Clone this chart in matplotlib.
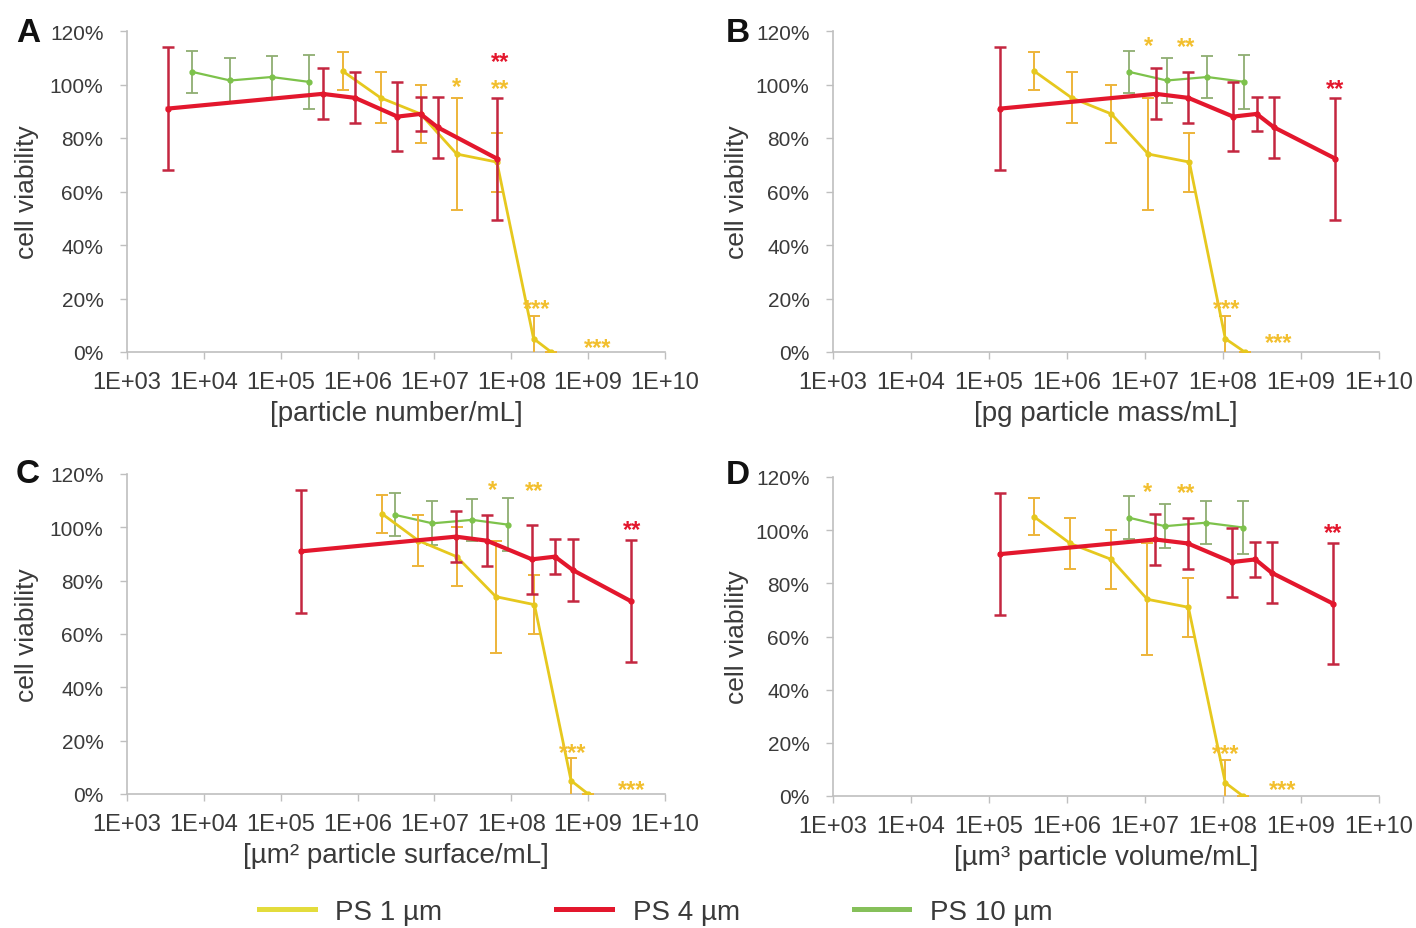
import matplotlib
matplotlib.use('Agg')
import matplotlib.pyplot as plt
from matplotlib.ticker import FixedLocator, FuncFormatter, LogLocator, NullFormatter
from matplotlib.lines import Line2D
import numpy as np

plt.rcParams['font.family'] = ['Liberation Sans', 'DejaVu Sans']

# ---------------- data ----------------
series_labels = ['PS 1 µm', 'PS 4 µm', 'PS 10 µm']

# cell viability (%) and error (SD) -- same for every panel
viab_ps1 = [105, 95, 89, 74, 71, 5, 0]
err_ps1 = [7, 9.5, 11, 21, 11, 8.6, 0]
viab_ps4 = [91, 96.5, 95, 88, 89, 84, 72.3]
err_ps4 = [23, 9.5, 9.5, 13, 6.5, 11.5, 22.8]
viab_ps10 = [104.7, 101.5, 102.8, 101]
err_ps10 = [8, 8.3, 8, 10]

# A: particle number / mL
xA_ps1 = [6.4e5, 2.0e6, 6.6e6, 1.95e7, 6.5e7, 1.95e8, 3.3e8]
xA_ps4 = [3.4e3, 3.5e5, 9.3e5, 3.3e6, 6.6e6, 1.1e7, 6.5e7]
xA_ps10 = [7.1e3, 2.2e4, 7.6e4, 2.3e5]
# B: pg particle mass / mL
xB_ps1 = [3.8e5, 1.15e6, 3.7e6, 1.1e7, 3.7e7, 1.07e8, 1.9e8]
xB_ps4 = [1.4e5, 1.38e7, 3.6e7, 1.35e8, 2.7e8, 4.5e8, 2.75e9]
xB_ps10 = [6.3e6, 1.9e7, 6.3e7, 1.86e8]
# C: µm² particle surface / mL
xC_ps1 = [2.1e6, 6.2e6, 1.95e7, 6.3e7, 2.0e8, 6.0e8, 1.0e9]
xC_ps4 = [1.86e5, 1.9e7, 4.8e7, 1.86e8, 3.7e8, 6.3e8, 3.6e9]
xC_ps10 = [3.05e6, 9.4e6, 3.1e7, 9.1e7]
# D: µm³ particle volume / mL
xD_ps1 = [3.8e5, 1.1e6, 3.7e6, 1.07e7, 3.6e7, 1.07e8, 1.8e8]
xD_ps4 = [1.4e5, 1.35e7, 3.55e7, 1.3e8, 2.6e8, 4.2e8, 2.6e9]
xD_ps10 = [6.2e6, 1.8e7, 6.0e7, 1.8e8]

panel_letters = ['A', 'B', 'C', 'D']
x_labels = ['[particle number/mL]', '[pg particle mass/mL]',
            '[µm² particle surface/mL]', '[µm³ particle volume/mL]']
y_label = 'cell viability'
x_tick_exponents = [3, 4, 5, 6, 7, 8, 9, 10]
y_ticks = [0, 20, 40, 60, 80, 100, 120]

# significance marks: (text, series, point index, y-centre %, shift in decades)
sig_A = [('*', 'ps1', 3, 102, 0.0), ('**', 'ps1', 4, 101.5, 0.04), ('**', 'ps4', 6, 111.5, 0.04),
         ('***', 'ps1', 5, 19, 0.04), ('***', 'ps1', 6, 4.6, 0.6)]
sig_B = [('*', 'ps1', 3, 117.6, 0.0), ('**', 'ps1', 4, 117, -0.04), ('***', 'ps1', 5, 19.2, 0.02),
         ('***', 'ps1', 6, 6.4, 0.43), ('**', 'ps4', 6, 101.4, 0.0)]
sig_C = [('*', 'ps1', 3, 116.9, -0.04), ('**', 'ps1', 4, 116.6, 0.0), ('***', 'ps1', 5, 18.4, 0.02),
         ('***', 'ps1', 6, 4.6, 0.56), ('**', 'ps4', 6, 102, 0.02)]
sig_D = [('*', 'ps1', 3, 117.4, 0.0), ('**', 'ps1', 4, 117, -0.03), ('***', 'ps1', 5, 18.7, 0.0),
         ('***', 'ps1', 6, 5.4, 0.51), ('**', 'ps4', 6, 102, 0.0)]

# ---------------- style ----------------
col_line = {'ps1': '#E6C81E', 'ps4': '#E3172D', 'ps10': '#7DC24B'}
col_err = {'ps1': '#EDB43A', 'ps4': '#C42640', 'ps10': '#8FAE72'}
col_sig = {'ps1': '#F2BF2E', 'ps4': '#E3172D'}
lw = {'ps1': 2.0, 'ps4': 3.0, 'ps10': 1.6}
elw = {'ps1': 1.4, 'ps4': 1.8, 'ps10': 1.3}
zo = {'ps1': 3, 'ps4': 4, 'ps10': 2}
leg_col = ['#E3DC3C', '#E3172D', '#86C05A']

W, H = 1416, 929
fig = plt.figure(figsize=(W / 100, H / 100), dpi=100)

# axes boxes in pixels: left, right, y(0%), y(120%)
boxes = [(127, 665, 353, 32), (833, 1379, 353, 32), (127, 665, 795, 475), (833, 1379, 797, 478)]
letter_pos = [(28, 33), (738, 33), (28, 475), (738, 476)]

panels = [
    (xA_ps1, xA_ps4, xA_ps10, sig_A),
    (xB_ps1, xB_ps4, xB_ps10, sig_B),
    (xC_ps1, xC_ps4, xC_ps10, sig_C),
    (xD_ps1, xD_ps4, xD_ps10, sig_D),
]

gray = '#BFBFBF'
txt = '#3A3A3A'

for i, ((l, r, y0, y1), (x1, x4, x10, sigs)) in enumerate(zip(boxes, panels)):
    ax = fig.add_axes([l / W, 1 - y0 / H, (r - l) / W, (y0 - y1) / H])
    data = {'ps1': (x1, viab_ps1, err_ps1), 'ps4': (x4, viab_ps4, err_ps4),
            'ps10': (x10, viab_ps10, err_ps10)}
    for key in ['ps10', 'ps1', 'ps4']:
        xs, ys, es = data[key]
        ax.errorbar(xs, ys, yerr=es, color=col_line[key], ecolor=col_err[key],
                    elinewidth=elw[key], capsize=4.5, capthick=elw[key], lw=lw[key],
                    marker='o', ms=3.5, zorder=zo[key])
    for text, key, idx, yc, dx in sigs:
        xs = data[key][0]
        fs = 17
        ax.annotate(text, xy=(xs[idx] * 10 ** dx, yc), xytext=(0, -0.6 * fs),
                    textcoords='offset points', ha='center', va='baseline',
                    fontsize=fs, fontweight='bold', color=col_sig[key],
                    annotation_clip=False, zorder=6)

    ax.set_xscale('log')
    ax.set_xlim(1e3, 1e10)
    ax.set_ylim(0, 120)
    ax.set_yticks(y_ticks)
    ax.yaxis.set_major_formatter(FuncFormatter(lambda v, p: f"{int(round(v))}%"))
    ax.xaxis.set_major_locator(FixedLocator([10.0 ** k for k in x_tick_exponents]))
    ax.xaxis.set_major_formatter(FuncFormatter(lambda v, p: f"1E+{int(round(np.log10(v))):02d}"))
    ax.xaxis.set_minor_locator(LogLocator(base=10, subs=np.arange(2, 10)))
    ax.xaxis.set_minor_formatter(NullFormatter())
    for s in ['top', 'right']:
        ax.spines[s].set_visible(False)
    for s in ['left', 'bottom']:
        ax.spines[s].set_color(gray)
        ax.spines[s].set_linewidth(1.2)
    ax.tick_params(axis='y', colors=gray, labelcolor=txt, length=5, width=1, pad=12, labelsize=15)
    ax.tick_params(axis='x', which='major', colors=gray, labelcolor=txt, length=5, width=1,
                   pad=9, labelsize=17)
    ax.tick_params(axis='x', which='minor', colors=gray, length=3, width=0.8)
    ax.set_facecolor('none')

    ax.set_xlabel(x_labels[i], fontsize=20, color=txt)
    ax.xaxis.set_label_coords(0.5, -0.19)
    ax.xaxis.label.set_va('center')
    ax.set_ylabel(y_label, fontsize=19, color=txt)
    ax.yaxis.set_label_coords(-0.186 if i % 2 == 0 else -0.176, 0.5)
    ax.yaxis.label.set_va('center')

    lx, ly = letter_pos[i]
    fig.text(lx / W, 1 - ly / H, panel_letters[i], fontsize=24, fontweight='bold',
             color='#111111', ha='center', va='center')

handles = [Line2D([], [], color=c, lw=3.6) for c in leg_col]
fig.legend(handles, series_labels, loc='center', bbox_to_anchor=(656 / W, 1 - 913 / H),
           ncol=3, frameon=False, fontsize=20, handlelength=2.0, handletextpad=0.75,
           columnspacing=4.1, labelcolor=txt)

fig.savefig('out.png', dpi=100, facecolor='white')
